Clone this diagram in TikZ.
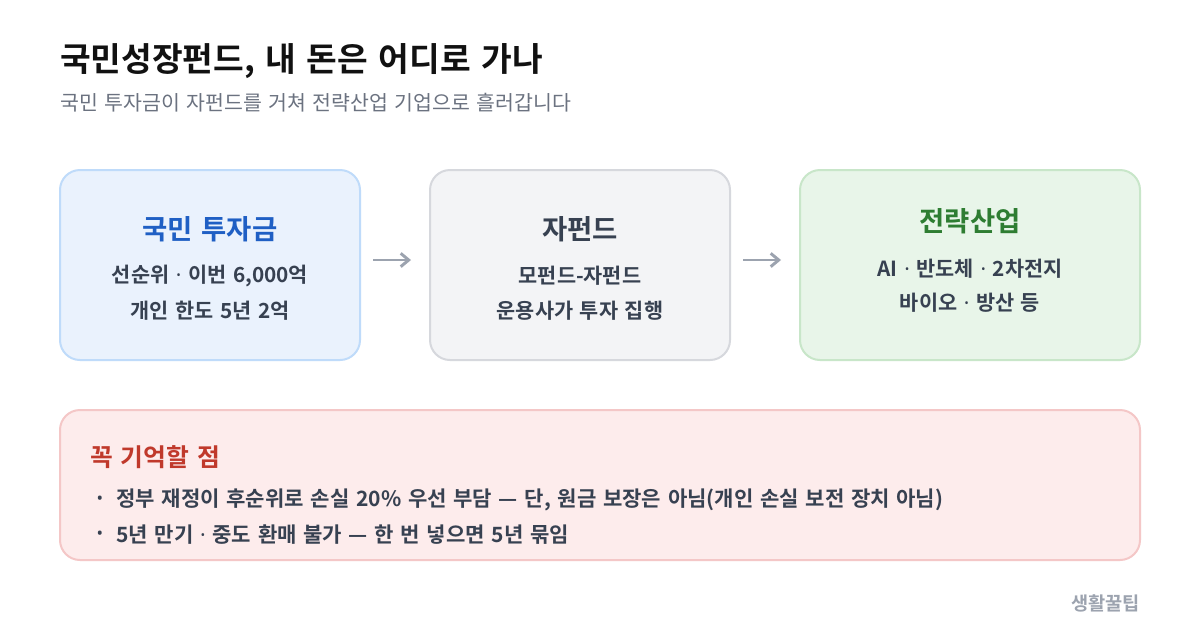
\documentclass[tikz,border=0pt]{standalone}
\usepackage{fontspec}
\setmainfont{Noto Sans CJK KR}[BoldFont={Noto Sans CJK KR Bold},WordSpace=1.4]
\newfontfamily\latinfont{Noto Sans}[WordSpace=1.4]
\newcommand{\dt}{{\latinfont\bfseries ·}}
\newcommand{\bul}{{\latinfont •}}
\usetikzlibrary{arrows.meta}
\definecolor{titlec}{HTML}{111111}
\definecolor{subc}{HTML}{6B7280}
\definecolor{bodyc}{HTML}{374151}
\definecolor{bluefill}{HTML}{EAF2FD}
\definecolor{blueline}{HTML}{BFDBFA}
\definecolor{bluetext}{HTML}{1F5FC4}
\definecolor{grayfill}{HTML}{F3F4F6}
\definecolor{grayline}{HTML}{D6D8DD}
\definecolor{greenfill}{HTML}{E8F5E9}
\definecolor{greenline}{HTML}{C8E6C9}
\definecolor{greentext}{HTML}{2E7D32}
\definecolor{redfill}{HTML}{FDECEC}
\definecolor{redline}{HTML}{F4C7C7}
\definecolor{redtext}{HTML}{C0392B}
\definecolor{arrowc}{HTML}{9CA3AF}
\definecolor{footc}{HTML}{9CA3AF}
\begin{document}
\begin{tikzpicture}[x=0.75pt,y=-0.75pt,
  card/.style={draw, line width=1.5pt, rounded corners=15pt, inner sep=0pt},
  cardtitle/.style={font=\bfseries\fontsize{20.6}{24}\selectfont, inner sep=0pt},
  cardline/.style={font=\bfseries\fontsize{15.6}{18}\selectfont, text=bodyc, inner sep=0pt},
  flow/.style={draw=arrowc, line width=2.2pt, -{Straight Barb[length=6pt,width=10pt,line width=2.2pt]}},
  bullet/.style={font=\bfseries\fontsize{15.8}{18}\selectfont, text=bodyc, inner sep=0pt},
  bulletdot/.style={font=\fontsize{13}{15}\selectfont, text=bodyc, inner sep=0pt}
]
\useasboundingbox (0,0) rectangle (1200,640);
\fill[white] (0,0) rectangle (1200,640);

% title
\node[anchor=west, inner sep=0pt, text=titlec, font=\bfseries\fontsize{25}{30}\selectfont] (title) at (60,61) {국민성장펀드, 내 돈은 어디로 가나};
\node[anchor=west, inner sep=0pt, text=subc, font=\fontsize{15.4}{18}\selectfont] (sub) at (60,103) {국민 투자금이 자펀드를 거쳐 전략산업 기업으로 흘러갑니다};

% cards
\node[card, fill=bluefill, draw=blueline, minimum width=300*0.75pt, minimum height=190*0.75pt] (b1) at (210,265) {};
\node[card, fill=grayfill, draw=grayline, minimum width=300*0.75pt, minimum height=190*0.75pt] (b2) at (580,265) {};
\node[card, fill=greenfill, draw=greenline, minimum width=340*0.75pt, minimum height=190*0.75pt] (b3) at (970,265) {};

\node[cardtitle, text=bluetext] (t1) at (210,229) {국민 투자금};
\node[cardline] (l1a) at (210,276) {선순위 \dt{} 이번 6,000억};
\node[cardline] (l1b) at (210,311) {개인 한도 5년 2억};

\node[cardtitle, text=bodyc] (t2) at (580,229) {자펀드};
\node[cardline] (l2a) at (580,276) {모펀드-자펀드};
\node[cardline] (l2b) at (580,311) {운용사가 투자 집행};

\node[cardtitle, text=greentext] (t3) at (970,221) {전략산업};
\node[cardline] (l3a) at (970,269) {AI \dt{} 반도체 \dt{} 2차전지};
\node[cardline] (l3b) at (970,303) {바이오 \dt{} 방산 등};

% arrows
\coordinate (a1s) at (373,260);
\coordinate (a1e) at (411,260);
\coordinate (a2s) at (743,260);
\coordinate (a2e) at (781,260);
\draw[flow] (a1s) -- (a1e);
\draw[flow] (a2s) -- (a2e);

% bottom box
\node[card, fill=redfill, draw=redline, minimum width=1080*0.75pt, minimum height=150*0.75pt] (note) at (600,485) {};
\node[anchor=west, inner sep=0pt, text=redtext, font=\bfseries\fontsize{18.6}{22}\selectfont] (nt) at (90,457) {꼭 기억할 점};
\node[bulletdot] (d1) at (100,500) {\bul};
\node[bullet, anchor=west] (n1) at (116,500) {정부 재정이 후순위로 손실 20\% 우선 부담 — 단, 원금 보장은 아님(개인 손실 보전 장치 아님)};
\node[bulletdot] (d2) at (100,535) {\bul};
\node[bullet, anchor=west] (n2) at (116,535) {5년 만기 \dt{} 중도 환매 불가 — 한 번 넣으면 5년 묶임};

% footer
\node[anchor=east, inner sep=0pt, text=footc, font=\bfseries\fontsize{14}{17}\selectfont] (foot) at (1140,603) {생활꿀팁};
\end{tikzpicture}
\end{document}
